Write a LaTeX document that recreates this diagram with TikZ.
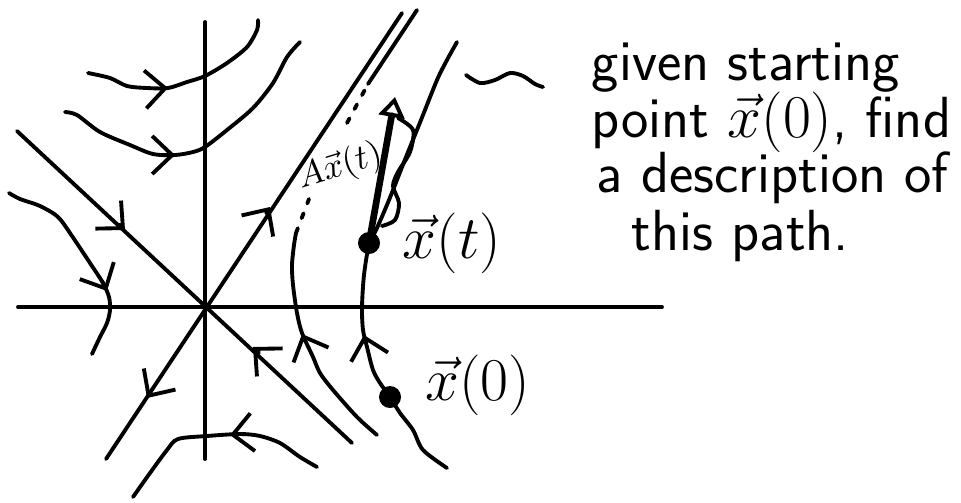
\documentclass[tikz,border=0pt]{standalone}
\usepackage{amsmath}
\usepackage{fontspec}
\usepackage{tikz}
\usetikzlibrary{arrows.meta}

\begin{document}
\begin{tikzpicture}[x=0.01cm,y=-0.01cm,line width=1.1pt,line cap=round,line join=round,
  flowtip/.style={-{Straight Barb[length=2mm,width=3.8mm]}},
  dashes/.style={dash pattern=on 1.5pt off 3pt},
  dot/.style={circle,fill=black,inner sep=0pt,minimum size=2.2mm},
  lbl/.style={font=\fontsize{17}{20}\selectfont,inner sep=0pt},
  note/.style={font=\sffamily\fontsize{16.5}{18}\selectfont,anchor=base west,inner sep=0pt}]
\useasboundingbox (0,0) rectangle (961,502);

% axes and the two eigen lines
\coordinate (O) at (205,307);
\coordinate (ytop) at (205,22);
\coordinate (ybot) at (205,459);
\coordinate (xl) at (18,307);
\coordinate (xr) at (662,307);
\coordinate (nw) at (17,131);
\coordinate (se) at (352,443);
\coordinate (sw) at (106,459);
\coordinate (ne) at (402,13);
\draw (ytop) -- (ybot);
\draw (xl) -- (xr);
\draw (nw) -- (se);
\draw (sw) -- (ne);
\draw[flowtip] (119,224.5) -- (125,230);
\draw[flowtip] (259,352.5) -- (253,347);
\draw[flowtip] (266,213) -- (270,207);
\draw[flowtip] (151,392) -- (147,398);

% other trajectories
\draw plot[smooth] coordinates {(88,73) (110,78) (127,86) (147,88) (168,88)
  (187,82) (205,76) (227,63) (247,47) (257,30) (258,20)};
\draw[flowtip] (160,88.5) -- (168,88);
\draw plot[smooth] coordinates {(65,112) (77,115) (100,132) (130,145) (153,154)
  (175,155) (193,152) (205,147) (227,130) (253,108) (273,83) (287,57) (300,42)};
\draw[flowtip] (167,155) -- (175,155);
\draw plot[smooth] coordinates {(9,193) (20,199) (40,206) (58,217) (72,236)
  (90,263) (103,283) (109,297) (110,310) (107,323) (100,337) (92,354)};
\draw[flowtip] (102,281) -- (107,291);
\draw plot[smooth] coordinates {(317,467) (300,457) (280,443) (260,436) (240,434)
  (207,436) (178,439) (167,450) (150,473) (133,497)};
\draw[flowtip] (238,434) -- (230,435);
\draw plot[smooth] coordinates {(377,435) (357,417) (333,390) (320,373) (313,357)
  (302,333) (297,313) (293,285) (292,265) (294,245) (296,233)};
\draw[flowtip] (305,341) -- (302,334);
\draw[dashes] (296,233) -- (309,199);
\draw[dashes] (347,123) -- (368,84);
\draw (368,84) -- (417,10);

% the path of x(t)
\draw plot[smooth] coordinates {(447,468) (423,450) (413,430) (400,413) (390,397)
  (380,383) (373,370) (367,347) (363,330) (362,307) (364,275) (369,245) (377,228) (389,200)
  (406,157) (421,120) (437,80) (447,60) (457,42)};
\draw[flowtip] (366,343) -- (364,335);
\node[dot] (x0) at (390,397) {};
\node[dot] (xt) at (369,243) {};
\coordinate (axtip) at (395,97);
\draw[line width=1.9pt,-{Triangle[open,length=2mm,width=2.6mm,line width=1.1pt]}] (xt.center) -- (axtip);
% brace beside the arrow
\draw plot[smooth] coordinates {(398,118) (413,130) (410,152) (398,172) (393,186) (399,203)
  (395,220) (382,226)};

% labels
\node[lbl,anchor=base] (lxt) at (452,258) {$\vec{x}(t)$};
\node[lbl,anchor=base] (lx0) at (478,400) {$\vec{x}(0)$};
\node[font=\fontsize{10}{11}\selectfont,rotate=17,inner sep=0pt] (lax) at (340,167) {$A\vec{x}(t)$};

% note on the right
\draw plot[smooth] coordinates {(466,75) (480,83) (495,80) (510,73) (523,76) (535,84) (543,87)};
\node[note] (n1) at (590,80) {given starting};
\node[note] (n2) at (590,137) {point $\vec{x}(0)$, find};
\node[note] (n3) at (595,192) {a description of};
\node[note] (n4) at (630,250) {this path.};
\end{tikzpicture}
\end{document}
